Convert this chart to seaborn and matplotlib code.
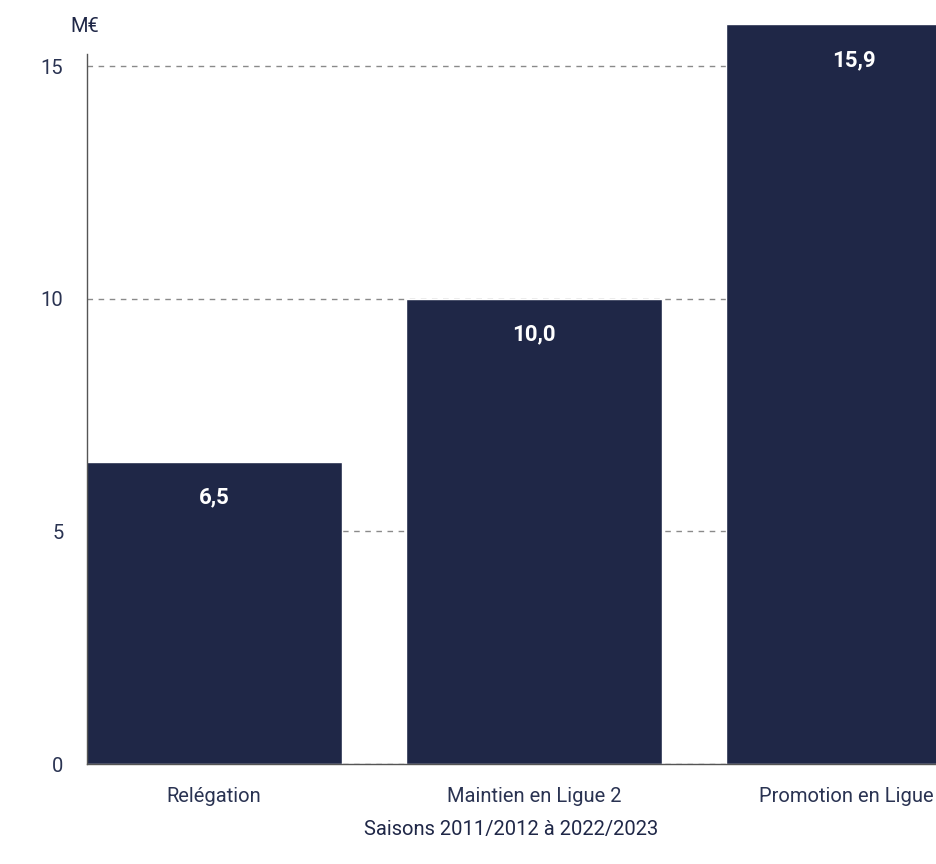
import matplotlib
matplotlib.use("Agg")
import numpy as np
import pandas as pd
import matplotlib.pyplot as plt
import seaborn as sns

categories = ["Relégation", "Maintien en Ligue 2", "Promotion en Ligue 1"]
values = [6.5, 10.0, 15.9]
value_labels = ["6,5", "10,0", "15,9"]
y_ticks = [0, 5, 10, 15]

navy = "#1f2747"
text_col = "#2a3352"

sns.set_style("white")
plt.rcParams['font.family'] = ['Roboto', 'DejaVu Sans']

df = pd.DataFrame({"cat": categories, "val": values})

fig = plt.figure(figsize=(9.36, 8.64), dpi=100)
ax = fig.add_axes([87 / 936, 1 - 764 / 864, 1 - 87 / 936, 764 / 864])

sns.barplot(data=df, x="cat", y="val", color=navy, saturation=1, width=0.8, ax=ax)

ax.set_xlim(-0.397, 2.256)
ax.set_ylim(0, 764 / 46.53)
ax.set_yticks(y_ticks)
ax.set_yticklabels([str(t) for t in y_ticks])

ax.set_axisbelow(True)
ax.yaxis.grid(True, color="#8a8a8a", linestyle=(0, (4, 4)), linewidth=1)
ax.xaxis.grid(False)

for s in ["top", "right"]:
    ax.spines[s].set_visible(False)
ax.spines["left"].set_bounds(0, 15.25)
ax.spines["left"].set_color("#555555")
ax.spines["bottom"].set_color("#555555")
ax.spines["left"].set_linewidth(1)
ax.spines["bottom"].set_linewidth(1)

ax.tick_params(axis="y", length=10, width=1, color="#555555", pad=7, labelsize=14.5, labelcolor=text_col)
ax.tick_params(axis="x", length=0, pad=16.5, labelsize=14.5, labelcolor=text_col)

ax.set_ylabel("")
ax.set_xlabel("Saisons 2011/2012 à 2022/2023", fontsize=14.5, color=navy, labelpad=10)

# value labels inside bars, near the top
for i, (v, lab) in enumerate(zip(values, value_labels)):
    ax.annotate(lab, xy=(i, v), xytext=(0, -26), textcoords="offset points",
                ha="center", va="center", color="white", fontsize=16, fontweight="bold")

fig.text(85 / 936, 1 - 26 / 864, "M€", ha="center", va="center", fontsize=14.5, color=navy)

fig.savefig("out.png", dpi=100)
